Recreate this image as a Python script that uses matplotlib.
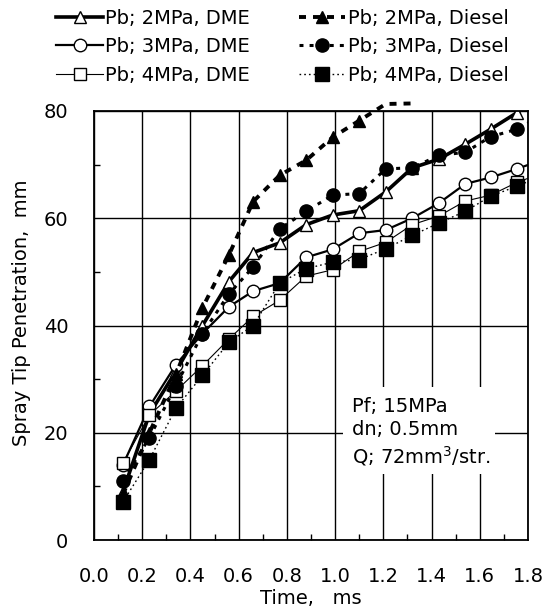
import matplotlib.pyplot as plt
from matplotlib.patches import Rectangle

plt.rcParams['font.family'] = ['DejaVu Sans']
plt.rcParams['font.size'] = 14

# injection timing (ms); the last entry lies just past the axis edge
time_ms = [0.12, 0.23, 0.34, 0.45, 0.56, 0.66, 0.77, 0.88, 0.99, 1.10,
           1.21, 1.32, 1.43, 1.54, 1.645, 1.755, 1.865]

# spray tip penetration (mm)
dme_2mpa = [9.0, 23.5, 31.5, 40.0, 48.2, 53.6, 55.4, 58.8, 60.6, 61.4,
            64.9, 69.4, 71.0, 73.8, 76.6, 79.7, 82.8]
dme_3mpa = [14.0, 24.9, 32.7, 38.5, 43.5, 46.4, 47.9, 52.7, 54.2, 57.2,
            57.8, 60.0, 62.8, 66.4, 67.6, 69.2, 71.0]
dme_4mpa = [14.4, 23.3, 27.8, 32.5, 37.5, 41.7, 44.7, 49.2, 50.4, 53.8,
            55.5, 58.8, 60.4, 63.2, 64.3, 66.7, 68.5]
diesel_2mpa = [8.5, 20.0, 30.9, 43.3, 53.2, 63.1, 68.0, 70.8, 75.1, 78.2,
               81.3, 81.4]
diesel_3mpa = [11.1, 19.1, 28.8, 38.5, 45.9, 50.9, 58.0, 61.3, 64.3, 64.6,
               69.2, 69.4, 71.7, 72.3, 75.2, 76.6, 79.4]
diesel_4mpa = [7.1, 15.0, 24.6, 30.7, 36.9, 40.0, 47.9, 50.6, 51.8, 52.3,
               54.3, 56.8, 59.1, 61.3, 64.1, 66.0, 68.0]

fig = plt.figure(figsize=(5.48, 6.13), dpi=100)
ax = fig.add_axes([0.1715, 0.119, 0.792, 0.700])

shown = list(range(16))
open_kw = dict(color='black', markerfacecolor='white', markeredgecolor='black',
               markeredgewidth=1.0)
fill_kw = dict(color='black', markerfacecolor='black', markeredgecolor='black')

h1, = ax.plot(time_ms, dme_2mpa, '-', marker='^', ms=9, lw=2.6,
              markevery=shown, label='Pb; 2MPa, DME', **open_kw)
h2, = ax.plot(time_ms, dme_3mpa, '-', marker='o', ms=9, lw=1.6,
              markevery=shown, label='Pb; 3MPa, DME', **open_kw)
h3, = ax.plot(time_ms, dme_4mpa, '-', marker='s', ms=8.5, lw=0.8,
              markevery=shown, label='Pb; 4MPa, DME', **open_kw)
h4, = ax.plot(time_ms[:len(diesel_2mpa)], diesel_2mpa, marker='^', ms=9,
              lw=2.8, dashes=(1.8, 1.8), markevery=list(range(10)),
              clip_on=False, label='Pb; 2MPa, Diesel', **fill_kw)
h5, = ax.plot(time_ms, diesel_3mpa, marker='o', ms=9.5, lw=2.2,
              dashes=(1.3, 2.0), markevery=shown,
              label='Pb; 3MPa, Diesel', **fill_kw)
h6, = ax.plot(time_ms, diesel_4mpa, marker='s', ms=10, lw=1.0,
              dashes=(1.2, 2.2), markevery=shown,
              label='Pb; 4MPa, Diesel', **fill_kw)

ax.set_xlim(0, 1.8)
ax.set_ylim(0, 80)
xt = [0.2 * i for i in range(10)]
ax.set_xticks(xt)
ax.set_xticklabels([f'{v:.1f}' for v in xt])
ax.set_xticks([0.1 + 0.2 * i for i in range(9)], minor=True)
ax.set_yticks(range(0, 81, 20))
ax.set_yticks(range(10, 80, 20), minor=True)
ax.tick_params(which='major', direction='in', length=0, width=1.0)
ax.tick_params(axis='x', which='major', pad=19.5)
ax.tick_params(axis='y', which='major', pad=18.5)
ax.tick_params(which='minor', direction='in', length=4, width=1.0)

ax.set_axisbelow(True)
ax.grid(True, which='major', color='black', lw=1.0)
for sp in ax.spines.values():
    sp.set_linewidth(1.3)

ax.add_patch(Rectangle((1.033, 12.3), 0.631, 16.2, facecolor='white',
                       edgecolor='none', zorder=1))
ax.text(1.07, 26.6, 'Pf; 15MPa\ndn; 0.5mm\nQ; 72mm$^3$/str.',
        ha='left', va='top', linespacing=1.25, fontsize=14, zorder=3)

ax.set_ylabel('Spray Tip Penetration,  mm', fontsize=14)
ax.yaxis.set_label_coords(-0.145, 0.53)
ax.set_xlabel('Time,   ms', fontsize=14)
ax.xaxis.set_label_coords(0.5, -0.113)

fig.legend(handles=[h1, h2, h3, h4, h5, h6], ncol=2, loc='upper left',
           bbox_to_anchor=(0.103, 0.986), frameon=False, handlelength=2.4,
           handletextpad=0.12, columnspacing=2.5, labelspacing=0.5,
           borderaxespad=0, borderpad=0, numpoints=1, fontsize=14)

fig.savefig('out.png', dpi=100)
